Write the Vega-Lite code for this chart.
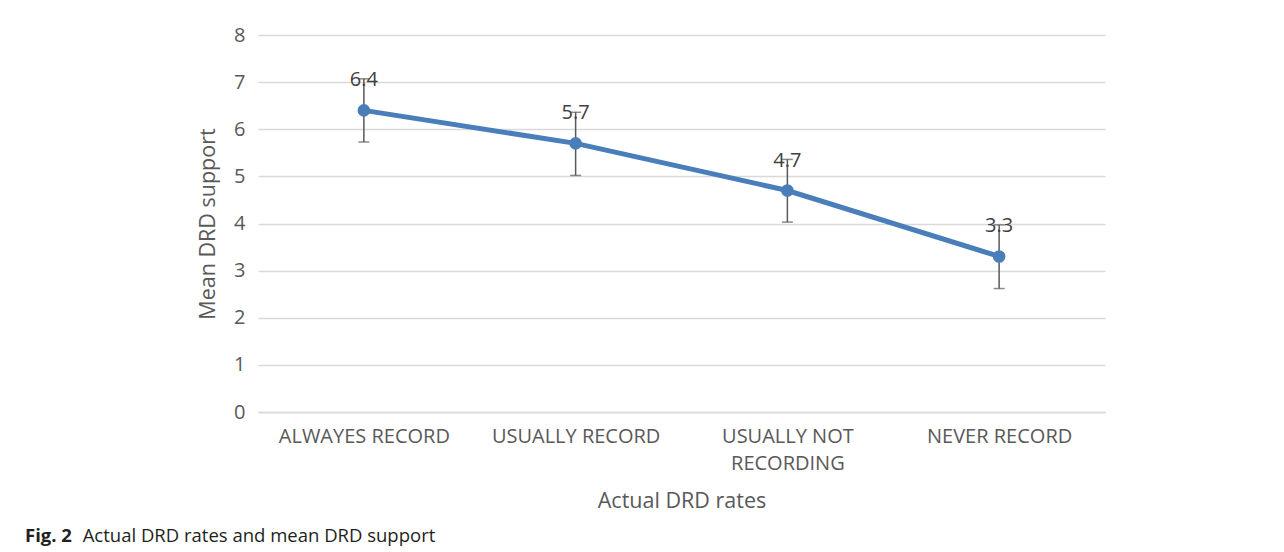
{
  "$schema": "https://vega.github.io/schema/vega-lite/v6.json",
  "width": 847,
  "height": 377,
  "autosize": {"type": "none"},
  "padding": {"left": 258, "top": 35, "right": 179, "bottom": 140},
  "background": "white",
  "title": {
    "text": "Fig. 2",
    "subtitle": "\u200b\u00a0\u00a0\u00a0\u00a0\u00a0\u00a0\u00a0\u00a0\u00a0\u00a0\u00a0\u00a0Actual DRD rates and mean DRD support",
    "orient": "bottom",
    "anchor": "start",
    "frame": "group",
    "dx": -233,
    "offset": 15,
    "font": "Open Sans",
    "fontSize": 18.5,
    "fontWeight": "bold",
    "color": "#231f20",
    "subtitleFont": "Open Sans",
    "subtitleFontSize": 18.5,
    "subtitleColor": "#231f20",
    "subtitlePadding": -18.5
  },
  "data": {
    "values": [
      {"rate": "ALWAYES RECORD", "mean": 6.4, "lower": 5.73, "upper": 7.07},
      {"rate": "USUALLY RECORD", "mean": 5.7, "lower": 5.02, "upper": 6.36},
      {"rate": "USUALLY NOT RECORDING", "mean": 4.7, "lower": 4.03, "upper": 5.36},
      {"rate": "NEVER RECORD", "mean": 3.3, "lower": 2.62, "upper": 3.97}
    ]
  },
  "encoding": {
    "x": {
      "field": "rate",
      "type": "nominal",
      "sort": null,
      "scale": {"type": "point", "padding": 0.5},
      "axis": {
        "title": "Actual DRD rates",
        "labelAngle": 0,
        "labelExpr": "datum.label == 'USUALLY NOT RECORDING' ? ['USUALLY NOT', 'RECORDING'] : datum.label",
        "labelLineHeight": 27,
        "labelPadding": 14,
        "ticks": false,
        "domain": true,
        "domainColor": "#d9d9d9",
        "domainWidth": 1.5,
        "grid": false,
        "titlePadding": 17
      }
    }
  },
  "layer": [
    {
      "mark": {"type": "line", "color": "#4a7ebb", "strokeWidth": 5},
      "encoding": {
        "y": {
          "field": "mean",
          "type": "quantitative",
          "title": "Mean DRD support",
          "scale": {"domain": [0, 8], "nice": false, "zero": true}
        }
      }
    },
    {
      "mark": {"type": "rule", "color": "#595959", "strokeWidth": 1.5},
      "encoding": {
        "y": {"field": "lower", "type": "quantitative", "title": "Mean DRD support"},
        "y2": {"field": "upper"}
      }
    },
    {
      "mark": {"type": "tick", "color": "#595959", "thickness": 1.5, "size": 11, "orient": "horizontal"},
      "encoding": {"y": {"field": "lower", "type": "quantitative", "title": "Mean DRD support"}}
    },
    {
      "mark": {"type": "tick", "color": "#595959", "thickness": 1.5, "size": 11, "orient": "horizontal"},
      "encoding": {"y": {"field": "upper", "type": "quantitative", "title": "Mean DRD support"}}
    },
    {
      "mark": {"type": "circle", "color": "#4a7ebb", "size": 160, "opacity": 1},
      "encoding": {"y": {"field": "mean", "type": "quantitative", "title": "Mean DRD support"}}
    },
    {
      "mark": {"type": "text", "color": "#404040", "font": "Open Sans", "fontSize": 20, "dy": -30, "baseline": "middle"},
      "encoding": {
        "y": {"field": "mean", "type": "quantitative", "title": "Mean DRD support"},
        "text": {"field": "mean", "type": "quantitative", "format": ".1f"}
      }
    }
  ],
  "config": {
    "axis": {
      "labelFont": "Open Sans",
      "labelFontSize": 20,
      "labelColor": "#595959",
      "titleFont": "Open Sans",
      "titleFontSize": 21.5,
      "titleFontWeight": "normal",
      "titleColor": "#595959"
    },
    "axisY": {
      "tickCount": 8,
      "labelOverlap": false,
      "ticks": false,
      "domain": false,
      "grid": true,
      "gridColor": "#d9d9d9",
      "gridWidth": 1.5,
      "labelPadding": 13,
      "titlePadding": 14
    },
    "view": {"stroke": null}
  }
}
